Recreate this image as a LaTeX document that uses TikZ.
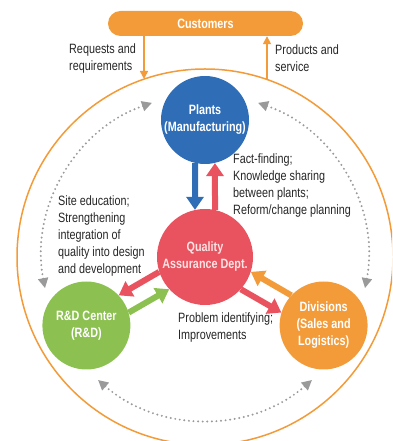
\documentclass[tikz,border=0pt]{standalone}
\usepackage{fontspec}
\setmainfont{Liberation Sans}[FakeStretch=0.8]
\usetikzlibrary{arrows.meta}
\definecolor{plantblue}{RGB}{47,110,183}
\definecolor{qared}{RGB}{232,83,95}
\definecolor{rdgreen}{RGB}{140,193,82}
\definecolor{divorange}{RGB}{243,155,56}
\definecolor{dotgrey}{RGB}{154,154,154}
\definecolor{qatext}{RGB}{253,227,228}
\tikzset{
    unit/.style={circle, minimum size=88pt, inner sep=0pt, align=center, text=white, font=\fontsize{13.5}{17}\selectfont\bfseries},
    note/.style={anchor=west, align=left, inner sep=0pt, text=black!85, font=\fontsize{13.5}{17}\selectfont},
    fat/.style={line width=6pt, -{Triangle[length=13pt,width=17pt]}},
    feed/.style={draw=divorange, line width=1.5pt, -{Triangle[length=8pt,width=8pt]}},
    dotarc/.style={dotgrey, line width=2.2pt, line cap=round, dash pattern=on 0pt off 4.6pt, {Triangle[length=10pt,width=10pt]}-{Triangle[length=10pt,width=10pt]}}
}
\begin{document}
\begin{tikzpicture}[x=1pt, y=1pt]
    \clip (0,0) rectangle (392,441);

    \node[unit, minimum size=96pt, fill=qared, text=qatext] (qa) at (205,184) {Quality\\Assurance Dept.};
    \node[unit, fill=plantblue] (plants) at (205,321) {Plants\\(Manufacturing)};
    \node[unit, fill=rdgreen] (rd) at (86.4,115.5) {R\&D Center\\(R\&D)};
    \node[unit, fill=divorange] (div) at (323.6,115.5) {Divisions\\(Sales and\\Logistics)};
    \node[fill=divorange, rounded corners=12.5pt, minimum width=195pt, minimum height=25pt, text=white, font=\fontsize{13.5}{17}\selectfont\bfseries] (cust) at (205.5,417.5) {Customers};

    \draw[divorange, line width=1.5pt] (qa.center) circle[radius=188pt];

    \draw[fat, plantblue] (plants.257) -- (qa.102);
    \draw[fat, qared] (qa.78) -- (plants.283);
    \draw[fat, qared] (qa.198) -- (rd.43);
    \draw[fat, rdgreen] (rd.17) -- (qa.222);
    \draw[fat, qared] (qa.318) -- (div.163);
    \draw[fat, divorange] (div.137) -- (qa.342);

    \draw[dotarc] ([shift={(109:163pt)}]qa.center) arc[start angle=109, end angle=191, radius=163pt];
    \draw[dotarc] ([shift={(71:163pt)}]qa.center) arc[start angle=71, end angle=-11, radius=163pt];
    \draw[dotarc] ([shift={(229:163pt)}]qa.center) arc[start angle=229, end angle=311, radius=163pt];

    \coordinate (askin) at (144,362);
    \coordinate (giveout) at (267,362);
    \draw[feed] (cust.south -| askin) -- (askin);
    \draw[feed] (giveout) -- (cust.south -| giveout);

    \node[note] (asks) at (69,382.5) {Requests and\\requirements};
    \node[note] (gives) at (275,382.5) {Products and\\service};
    \node[note] (plantnote) at (233,255) {Fact-finding;\\Knowledge sharing\\between plants;\\Reform/change planning};
    \node[note] (rdnote) at (58,204.5) {Site education;\\Strengthening\\integration of\\quality into design\\and development};
    \node[note] (divnote) at (178,113.5) {Problem identifying;\\Improvements};
\end{tikzpicture}
\end{document}
